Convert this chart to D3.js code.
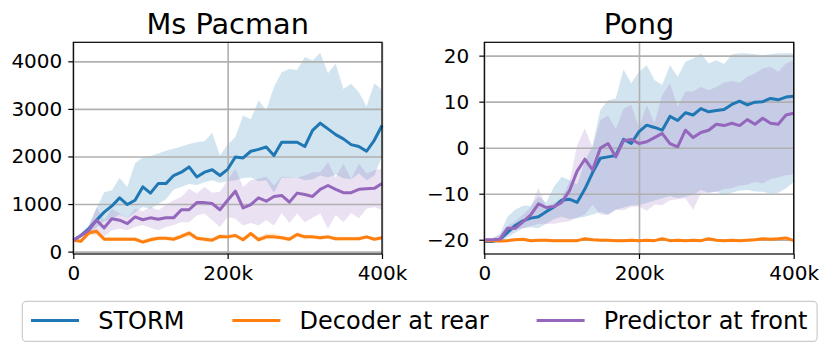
<!DOCTYPE html>
<html>
<head>
<meta charset="utf-8">
<script src="https://cdn.jsdelivr.net/npm/d3@7"></script>
<style>
  body { margin: 0; background: #fff; }
  svg { display: block; font-family: "DejaVu Sans", sans-serif; }
  .tick text { fill: #000; }
</style>
</head>
<body>
<svg id="chart" width="830" height="354"></svg>
<script>
// training steps (thousands)
var steps = [0,10,20,30,40,50,60,70,80,90,100,110,120,130,140,150,160,170,180,190,200,
             210,220,230,240,250,260,270,280,290,300,310,320,330,340,350,360,370,380,390,400];

var seriesNames = ["STORM", "Decoder at rear", "Predictor at front"];
var seriesColors = ["#1f77b4", "#ff7f0e", "#9467bd"];

// Ms Pacman
var pacStorm = [240,340,480,660,830,960,1130,990,1080,1360,1230,1430,1430,1600,1670,1780,1570,1670,1720,1600,1730,
                1990,1970,2110,2150,2200,2020,2300,2300,2300,2210,2550,2700,2580,2460,2370,2250,2210,2110,2340,2650];
var pacStormHi = [260,380,560,900,1250,1290,1550,1360,1860,1980,2010,2060,2120,2160,2210,2260,2300,2320,2500,2020,2250,
                  2410,2860,2780,3180,2970,3460,3770,3840,3820,4090,4020,4180,3750,3950,3420,3530,3350,3050,3540,3400];
var pacStormLo = [220,300,400,500,640,680,780,700,820,940,900,1000,1100,1300,1360,1420,1400,1460,1500,1450,1480,
                  1500,1550,1560,1480,1500,1240,1560,1550,1560,1500,1520,1600,1560,1620,1540,1520,1640,1500,1600,2000];
var pacDec = [240,220,390,430,260,260,260,260,260,200,250,280,280,260,320,390,280,260,240,320,310,
              340,250,380,250,310,310,290,260,360,310,310,290,310,270,270,270,270,310,260,290];
var pacDecHi = [270,270,440,470,310,300,300,300,300,250,300,320,320,310,370,440,330,300,290,370,360,
                380,300,420,300,380,380,340,310,400,360,350,340,350,320,310,310,310,350,300,330];
var pacDecLo = [210,180,340,350,230,230,230,230,230,170,210,240,240,230,270,330,240,220,200,280,270,
                300,210,330,210,260,260,250,220,310,260,270,250,270,230,240,240,240,270,230,250];
var pacPred = [240,340,450,660,500,690,660,590,730,670,710,680,710,710,880,880,1030,1030,1010,880,1080,
               1270,920,990,1130,1060,1160,1180,1040,1230,1200,1160,1310,1390,1310,1240,1240,1310,1320,1330,1430];
var pacPredHi = [260,380,520,940,660,900,800,700,900,850,940,870,980,1080,1150,1320,1220,1360,1240,1260,1500,
                 1740,1360,1500,1530,1580,1390,1580,1560,1560,1600,1670,1670,1880,1560,1850,1520,1850,1640,1710,1740];
var pacPredLo = [220,300,380,380,310,450,480,450,520,560,500,450,520,560,620,620,760,800,660,520,730,
                 690,550,600,550,660,550,810,600,800,620,710,800,480,770,620,810,700,900,940,870];

// Pong
var pongStorm = [-20.4,-20.4,-20.0,-18.4,-16.9,-15.9,-15.3,-15.0,-13.9,-12.9,-11.4,-11.2,-11.9,-9.0,-5.4,-2.3,-2.0,-1.7,1.8,0.9,3.5,
                 4.9,4.4,3.8,6.8,5.9,7.6,7.1,8.5,7.8,8.1,8.3,9.4,10.1,9.3,9.9,10.0,10.7,10.4,11.0,11.2];
var pongStormHi = [-20.0,-19.8,-18.8,-15.0,-13.5,-12.6,-12.6,-10.6,-11.9,-8.5,-6.3,-7.0,-8.0,-3.0,0.5,8.2,10.3,10.7,17.0,14.0,16.5,
                   17.9,14.7,13.6,17.9,15.4,18.7,19.4,20.5,18.3,19.0,18.2,20.3,20.5,20.5,20.3,20.1,20.3,20.5,20.5,20.5];
var pongStormLo = [-20.6,-20.6,-20.6,-19.5,-18.5,-17.5,-17.3,-17.5,-16.5,-15.5,-15.0,-15.5,-15.3,-15.0,-14.5,-14.0,-14.5,-13.5,-13.0,-12.5,-12.5,
                   -12.0,-11.5,-11.0,-10.5,-11.0,-10.6,-10.2,-9.2,-9.8,-9.5,-10.3,-9.8,-9.3,-9.2,-9.5,-9.6,-10.0,-9.8,-8.8,-7.5];
var pongDec = [-20.2,-20.2,-20.3,-20.2,-20.0,-19.9,-20.2,-20.1,-20.1,-20.2,-20.2,-20.2,-20.2,-19.8,-20.0,-20.1,-20.1,-20.2,-20.2,-20.1,-20.2,
               -20.1,-20.2,-19.8,-20.2,-20.1,-20.2,-20.1,-20.2,-19.8,-20.1,-20.2,-20.1,-20.2,-20.1,-20.0,-19.8,-19.9,-19.8,-19.6,-20.2];
var pongDecHi = [-19.9,-19.9,-20.0,-19.9,-19.7,-19.6,-19.9,-19.8,-19.8,-19.9,-19.9,-19.9,-19.9,-19.5,-19.7,-19.8,-19.8,-19.9,-19.9,-19.8,-19.9,
                 -19.8,-19.9,-19.5,-19.9,-19.8,-19.9,-19.8,-19.9,-19.5,-19.8,-19.9,-19.8,-19.9,-19.8,-19.7,-19.5,-19.6,-19.5,-19.3,-19.9];
var pongDecLo = [-20.5,-20.5,-20.6,-20.5,-20.3,-20.2,-20.5,-20.4,-20.4,-20.5,-20.5,-20.5,-20.5,-20.1,-20.3,-20.4,-20.4,-20.5,-20.5,-20.4,-20.5,
                 -20.4,-20.5,-20.1,-20.5,-20.4,-20.5,-20.4,-20.5,-20.1,-20.4,-20.5,-20.4,-20.5,-20.4,-20.3,-20.1,-20.2,-20.1,-19.9,-20.5];
var pongPred = [-20.0,-20.0,-19.9,-17.5,-17.5,-16.1,-14.6,-12.2,-13.0,-12.8,-11.9,-9.4,-5.1,-2.5,-4.8,-0.1,0.9,-2.0,1.5,1.8,0.9,
                1.3,2.2,3.1,0.9,0.2,3.8,2.2,3.3,3.8,5.1,4.8,5.3,4.8,6.1,5.1,6.4,5.3,5.1,7.1,7.5];
var pongPredHi = [-19.8,-19.6,-19.0,-17.0,-16.0,-14.5,-13.0,-8.7,-13.0,-12.0,-11.0,-7.5,0.5,4.2,0.0,6.0,7.0,4.0,8.5,9.3,4.4,
                  9.3,5.3,11.4,14.0,8.9,12.2,12.2,13.2,12.5,13.2,14.1,14.5,14.1,15.4,16.1,17.2,17.6,16.5,18.3,19.0];
var pongPredLo = [-20.2,-20.2,-20.2,-19.0,-17.8,-17.5,-17.0,-16.5,-16.5,-16.5,-16.2,-16.0,-15.2,-14.5,-12.4,-14.5,-14.6,-13.5,-13.6,-12.9,-12.8,
                  -13.7,-12.4,-12.5,-11.4,-11.2,-11.0,-13.5,-9.9,-9.8,-9.6,-9.0,-8.8,-8.2,-8.0,-7.4,-7.8,-6.8,-6.5,-6.0,-5.8];

var pacTicks = [0, 1000, 2000, 3000, 4000];
var pongTicks = [-20, -10, 0, 10, 20];
var xTicks = [0, 200000, 400000];

var svg = d3.select("#chart");

function drawPanel(opt) {
    var x = d3.scaleLinear().domain([0, 400000]).range([opt.left, opt.right]);
    var y = d3.scaleLinear().domain(opt.yDomain).range([opt.bottom, opt.top]);
    var g = svg.append("g");

    var bands = [[opt.hi[0], opt.lo[0]], [opt.hi[1], opt.lo[1]], [opt.hi[2], opt.lo[2]]];
    bands.forEach(function (b, k) {
        var area = d3.area()
            .x(function (d, i) { return x(steps[i] * 1000); })
            .y0(function (d, i) { return y(b[1][i]); })
            .y1(function (d, i) { return y(d); });
        g.append("path")
            .attr("d", area(b[0]))
            .attr("fill", seriesColors[k])
            .attr("fill-opacity", 0.2);
    });

    // grid
    g.append("g")
        .attr("transform", "translate(" + opt.left + ",0)")
        .call(d3.axisLeft(y).tickValues(opt.yTicks).tickSize(-(opt.right - opt.left)).tickFormat(""))
        .call(function (s) {
            s.select(".domain").remove();
            s.selectAll("line").attr("stroke", "#b0b0b0").attr("stroke-width", 1.6);
        });
    g.append("g")
        .attr("transform", "translate(0," + opt.bottom + ")")
        .call(d3.axisBottom(x).tickValues(xTicks).tickSize(-(opt.bottom - opt.top)).tickFormat(""))
        .call(function (s) {
            s.select(".domain").remove();
            s.selectAll("line").attr("stroke", "#b0b0b0").attr("stroke-width", 1.6);
        });

    opt.mean.forEach(function (m, k) {
        var line = d3.line()
            .x(function (d, i) { return x(steps[i] * 1000); })
            .y(function (d) { return y(d); });
        g.append("path")
            .attr("d", line(m))
            .attr("fill", "none")
            .attr("stroke", seriesColors[k])
            .attr("stroke-width", 3)
            .attr("stroke-linejoin", "round");
    });

    // axes
    var yAxis = g.append("g")
        .attr("transform", "translate(" + opt.left + ",0)")
        .call(d3.axisLeft(y).tickValues(opt.yTicks).tickSize(5).tickPadding(opt.yPad).tickSizeOuter(0)
            .tickFormat(d3.format("d")));
    var xAxis = g.append("g")
        .attr("transform", "translate(0," + opt.bottom + ")")
        .call(d3.axisBottom(x).tickValues(xTicks).tickSize(5).tickPadding(7).tickSizeOuter(0)
            .tickFormat(function (d) { return d === 0 ? "0" : (d / 1000) + "k"; }));
    [yAxis, xAxis].forEach(function (a) {
        a.attr("font-size", 20).attr("font-family", "DejaVu Sans");
        a.select(".domain").remove();
        a.selectAll(".tick line").attr("stroke", "#000").attr("stroke-width", 1.2);
    });

    g.append("rect")
        .attr("x", opt.left).attr("y", opt.top)
        .attr("width", opt.right - opt.left).attr("height", opt.bottom - opt.top)
        .attr("fill", "none").attr("stroke", "#000").attr("stroke-width", 1.2);

    g.append("text")
        .attr("x", (opt.left + opt.right) / 2)
        .attr("y", 33.5)
        .attr("text-anchor", "middle")
        .attr("font-size", 28.8)
        .text(opt.title);
}

drawPanel({
    title: "Ms Pacman",
    left: 73.3, right: 382, top: 42.3, bottom: 254,
    yDomain: [-50, 4400], yTicks: pacTicks, yPad: 6,
    mean: [pacStorm, pacDec, pacPred],
    hi: [pacStormHi, pacDecHi, pacPredHi],
    lo: [pacStormLo, pacDecLo, pacPredLo]
});

drawPanel({
    title: "Pong",
    left: 484.3, right: 793.7, top: 42.3, bottom: 254,
    yDomain: [-23.1, 22.9], yTicks: pongTicks, yPad: 10,
    mean: [pongStorm, pongDec, pongPred],
    hi: [pongStormHi, pongDecHi, pongPredHi],
    lo: [pongStormLo, pongDecLo, pongPredLo]
});

// legend
var legend = svg.append("g").attr("font-size", 24);
var lineY = 320.5;
var cursor = 31;
seriesNames.forEach(function (name, k) {
    legend.append("line")
        .attr("x1", cursor).attr("x2", cursor + 48)
        .attr("y1", lineY).attr("y2", lineY)
        .attr("stroke", seriesColors[k]).attr("stroke-width", 3);
    var t = legend.append("text")
        .attr("x", cursor + 48 + 19.2)
        .attr("y", lineY + 8.7)
        .text(name);
    cursor = cursor + 48 + 19.2 + t.node().getComputedTextLength() + 48;
});
var legendRight = cursor - 48 + 9.6;
legend.insert("rect", ":first-child")
    .attr("x", 22.3).attr("y", 301.4)
    .attr("width", legendRight - 22.3).attr("height", 40)
    .attr("rx", 4).attr("ry", 4)
    .attr("fill", "#fff").attr("stroke", "#cccccc").attr("stroke-width", 1.2);
</script>
</body>
</html>
